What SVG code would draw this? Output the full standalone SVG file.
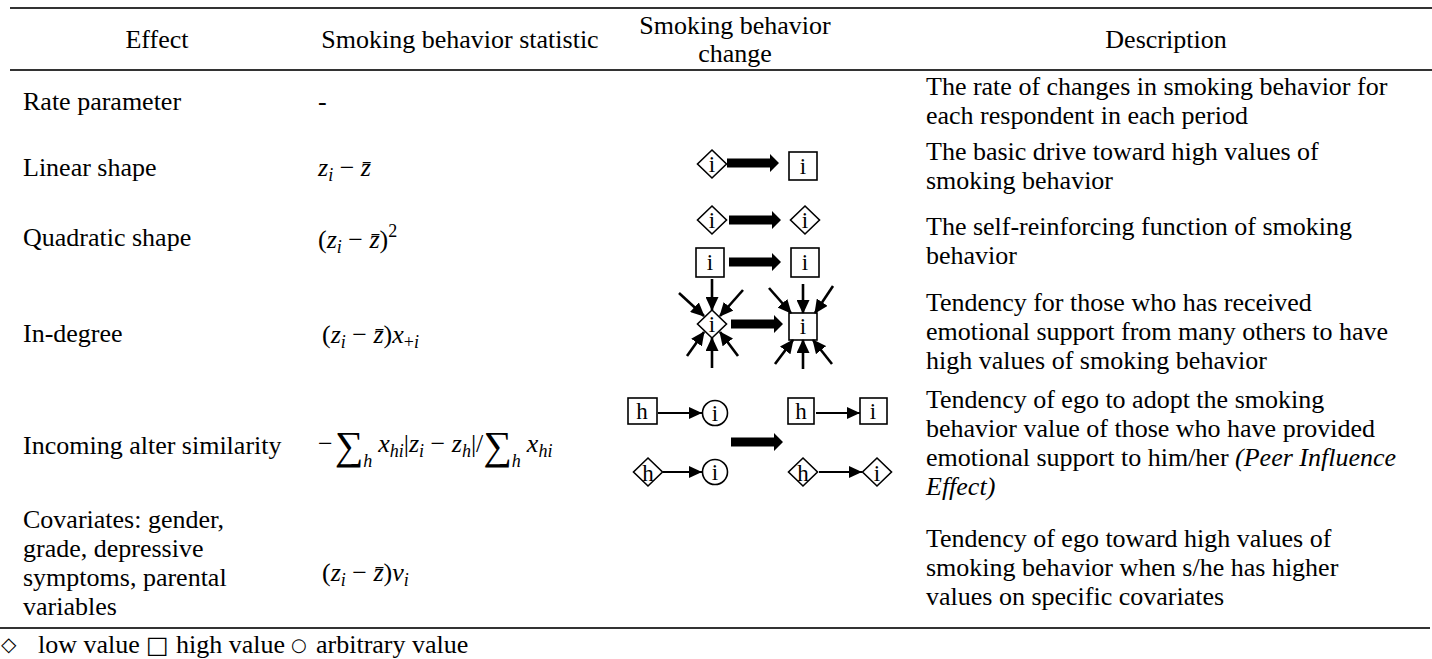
<svg xmlns="http://www.w3.org/2000/svg" width="1432" height="659" viewBox="0 0 1432 659">
<defs>
<marker id="ah" markerUnits="userSpaceOnUse" markerWidth="13" markerHeight="12" refX="13" refY="6" orient="auto"><path d="M0,0 L13,6 L0,12 z" fill="#000"/></marker>
<marker id="ah2" markerUnits="userSpaceOnUse" markerWidth="14" markerHeight="13" refX="13" refY="6.5" orient="auto"><path d="M0,0 L14,6.5 L0,13 z" fill="#000"/></marker>
<path id="big" d="M0,-4.5 L43,-4.5 L43,-9 L52,0 L43,9 L43,4.5 L0,4.5 z" fill="#000"/>
<path id="dia" d="M0,-14 L14.5,0 L0,14 L-14.5,0 z" fill="#fff" stroke="#000" stroke-width="1.6"/>
</defs>

<g id="rules" stroke="#333" stroke-width="2">
<line x1="10" y1="8" x2="1432" y2="8"/>
<line x1="10" y1="70" x2="1432" y2="70"/>
<line x1="0" y1="628" x2="1430" y2="628"/>
</g>

<g id="header" font-family="Liberation Serif" font-size="26" text-anchor="middle">
<text x="157" y="48">Effect</text>
<text x="460" y="48">Smoking behavior statistic</text>
<text x="735" y="34">Smoking behavior</text>
<text x="735" y="62">change</text>
<text x="1166" y="48">Description</text>
</g>

<g id="row-rate" font-family="Liberation Serif" font-size="26">
<text x="23" y="110">Rate parameter</text>
<text x="318" y="110">-</text>
<text x="926" y="95">The rate of changes in smoking behavior for</text>
<text x="926" y="124">each respondent in each period</text>
</g>

<g id="row-linear" font-family="Liberation Serif" font-size="26">
<text x="23" y="176">Linear shape</text>
<text x="318" y="176"><tspan font-style="italic">z</tspan><tspan font-size="18" font-style="italic" dy="5">i</tspan><tspan dy="-5"> − </tspan><tspan font-style="italic">z̄</tspan></text>
<text x="926" y="160">The basic drive toward high values of</text>
<text x="926" y="189">smoking behavior</text>
<use href="#dia" x="712" y="164"/>
<text font-size="23" text-anchor="middle" x="712" y="172">i</text>
<use href="#big" x="727" y="163"/>
<rect x="789" y="152" width="28" height="28" fill="#fff" stroke="#000" stroke-width="1.6"/>
<text font-size="23" text-anchor="middle" x="803" y="174">i</text>
</g>

<g id="row-quadratic" font-family="Liberation Serif" font-size="26">
<text x="23" y="246">Quadratic shape</text>
<text x="318" y="248">(<tspan font-style="italic">z</tspan><tspan font-size="18" font-style="italic" dy="5">i</tspan><tspan dy="-5"> − </tspan><tspan font-style="italic">z̄</tspan>)<tspan font-size="18" dy="-11">2</tspan></text>
<text x="926" y="235">The self-reinforcing function of smoking</text>
<text x="926" y="264">behavior</text>
<use href="#dia" x="712" y="220"/>
<text font-size="23" text-anchor="middle" x="712" y="228">i</text>
<use href="#big" x="729" y="220"/>
<use href="#dia" x="805" y="220"/>
<text font-size="23" text-anchor="middle" x="805" y="228">i</text>
<rect x="696" y="248" width="28" height="29" fill="#fff" stroke="#000" stroke-width="1.6"/>
<text font-size="23" text-anchor="middle" x="710" y="270">i</text>
<use href="#big" x="729" y="262"/>
<rect x="791" y="248" width="28" height="29" fill="#fff" stroke="#000" stroke-width="1.6"/>
<text font-size="23" text-anchor="middle" x="805" y="270">i</text>
</g>

<g id="row-indegree" font-family="Liberation Serif" font-size="26">
<text x="23" y="342">In-degree</text>
<text x="322" y="343">(<tspan font-style="italic">z</tspan><tspan font-size="18" font-style="italic" dy="5">i</tspan><tspan dy="-5"> − </tspan><tspan font-style="italic">z̄</tspan>)<tspan font-style="italic">x</tspan><tspan font-size="18" dy="5">+</tspan><tspan font-size="18" font-style="italic">i</tspan></text>
<text x="926" y="311">Tendency for those who has received</text>
<text x="926" y="340">emotional support from many others to have</text>
<text x="926" y="369">high values of smoking behavior</text>
<use href="#dia" x="712" y="324"/>
<text font-size="23" text-anchor="middle" x="712" y="332">i</text>
<use href="#big" x="731" y="324"/>
<rect x="789" y="313" width="28" height="27" fill="#fff" stroke="#000" stroke-width="1.6"/>
<text font-size="23" text-anchor="middle" x="803" y="334">i</text>
</g>

<g id="connectors" fill="none" stroke="#000">
<g stroke-width="2.6" marker-end="url(#ah2)">
<line x1="712" y1="279" x2="712" y2="310"/>
<line x1="679" y1="293" x2="704" y2="316"/>
<line x1="743" y1="290" x2="720" y2="316"/>
<line x1="712" y1="368" x2="712" y2="338"/>
<line x1="687" y1="356" x2="704" y2="332"/>
<line x1="738" y1="356" x2="720" y2="332"/>
<line x1="803" y1="284" x2="803" y2="313"/>
<line x1="769" y1="288" x2="791" y2="313"/>
<line x1="833" y1="286" x2="815" y2="313"/>
<line x1="803" y1="369" x2="803" y2="340"/>
<line x1="775" y1="364" x2="793" y2="340"/>
<line x1="832" y1="364" x2="813" y2="340"/>
</g>
<g stroke-width="2" marker-end="url(#ah)">
<line x1="658" y1="413" x2="702" y2="413"/>
<line x1="663" y1="472" x2="702" y2="472"/>
<line x1="816" y1="413" x2="860" y2="413"/>
<line x1="819" y1="472" x2="862" y2="472"/>
</g>
</g>

<g id="row-incoming" font-family="Liberation Serif" font-size="26">
<text x="23" y="454">Incoming alter similarity</text>
<text x="318" y="452">−<tspan font-size="40" dx="2" dy="7">∑</tspan><tspan font-size="18" font-style="italic" dy="8">h</tspan><tspan font-style="italic" dx="6" dy="-15">x</tspan><tspan font-size="18" font-style="italic" dy="5">hi</tspan><tspan dy="-5">|</tspan><tspan font-style="italic">z</tspan><tspan font-size="18" font-style="italic" dy="5">i</tspan><tspan dy="-5"> − </tspan><tspan font-style="italic">z</tspan><tspan font-size="18" font-style="italic" dy="5">h</tspan><tspan dy="-5">|/</tspan><tspan font-size="40" dy="7">∑</tspan><tspan font-size="18" font-style="italic" dy="8">h</tspan><tspan font-style="italic" dx="6" dy="-15">x</tspan><tspan font-size="18" font-style="italic" dy="5">hi</tspan></text>
<text x="926" y="408">Tendency of ego to adopt the smoking</text>
<text x="926" y="437">behavior value of those who have provided</text>
<text x="926" y="466">emotional support to him/her <tspan font-style="italic">(Peer Influence</tspan></text>
<text x="926" y="495" font-style="italic">Effect)</text>
<rect x="628" y="398" width="29" height="26" fill="#fff" stroke="#000" stroke-width="1.6"/>
<text font-size="23" text-anchor="middle" x="642" y="419">h</text>
<circle cx="715" cy="413" r="12.5" fill="#fff" stroke="#000" stroke-width="1.6"/>
<text font-size="23" text-anchor="middle" x="715" y="421">i</text>
<use href="#big" x="731" y="442"/>
<rect x="788" y="398" width="26" height="26" fill="#fff" stroke="#000" stroke-width="1.6"/>
<text font-size="23" text-anchor="middle" x="801" y="419">h</text>
<rect x="860" y="398" width="27" height="26" fill="#fff" stroke="#000" stroke-width="1.6"/>
<text font-size="23" text-anchor="middle" x="873" y="419">i</text>
<use href="#dia" x="648" y="472"/>
<text font-size="23" text-anchor="middle" x="648" y="481">h</text>
<circle cx="715" cy="472" r="12.5" fill="#fff" stroke="#000" stroke-width="1.6"/>
<text font-size="23" text-anchor="middle" x="715" y="480">i</text>
<use href="#dia" x="803" y="472"/>
<text font-size="23" text-anchor="middle" x="803" y="481">h</text>
<use href="#dia" x="877" y="472"/>
<text font-size="23" text-anchor="middle" x="877" y="481">i</text>
</g>

<g id="row-covariates" font-family="Liberation Serif" font-size="26">
<text x="23" y="528">Covariates: gender,</text>
<text x="23" y="557">grade, depressive</text>
<text x="23" y="586">symptoms, parental</text>
<text x="23" y="615">variables</text>
<text x="322" y="581">(<tspan font-style="italic">z</tspan><tspan font-size="18" font-style="italic" dy="5">i</tspan><tspan dy="-5"> − </tspan><tspan font-style="italic">z̄</tspan>)<tspan font-style="italic">v</tspan><tspan font-size="18" font-style="italic" dy="5">i</tspan></text>
<text x="926" y="547">Tendency of ego toward high values of</text>
<text x="926" y="576">smoking behavior when s/he has higher</text>
<text x="926" y="605">values on specific covariates</text>
</g>

<g id="legend" font-family="Liberation Serif" font-size="26">
<text x="1" y="651" font-family="DejaVu Sans" font-size="20">◇</text>
<text x="38" y="653">low value</text>
<text x="146" y="653" font-family="DejaVu Sans" font-size="24">□</text>
<text x="176" y="653">high value</text>
<text x="291" y="651" font-family="DejaVu Sans" font-size="18">○</text>
<text x="316" y="653">arbitrary value</text>
</g>
</svg>
